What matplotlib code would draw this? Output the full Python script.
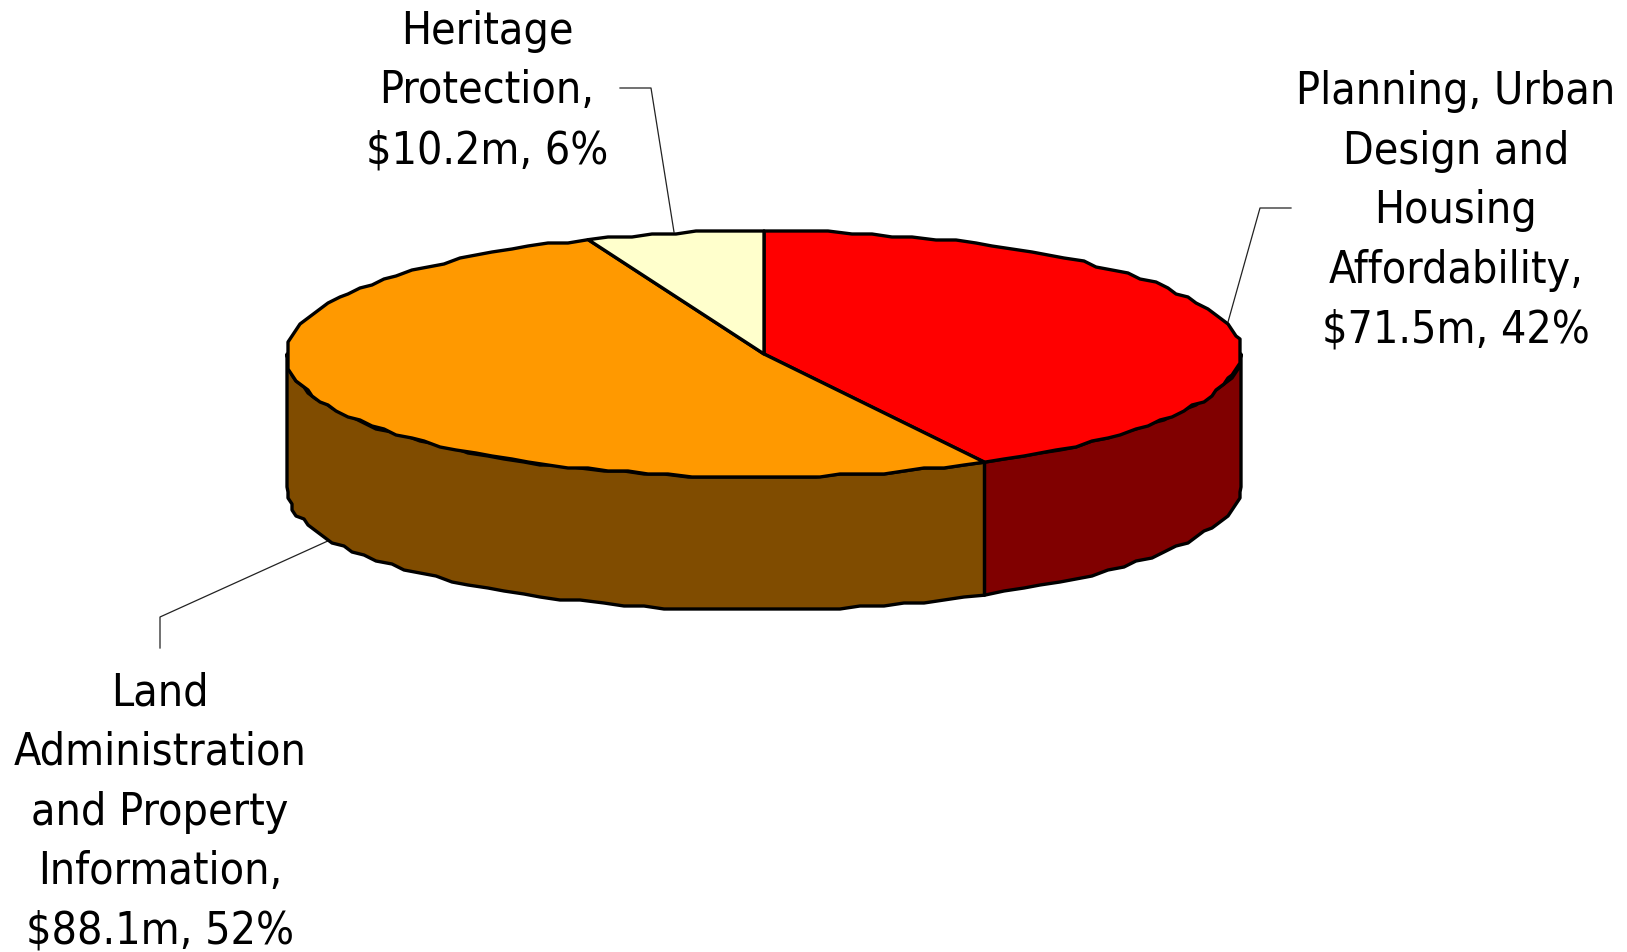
import numpy as np
import matplotlib
matplotlib.use("Agg")
import matplotlib.pyplot as plt
from matplotlib.patches import Polygon

categories = ["Planning, Urban\nDesign and\nHousing\nAffordability,\n$71.5m, 42%",
              "Land\nAdministration\nand Property\nInformation,\n$88.1m, 52%",
              "Heritage\nProtection,\n$10.2m, 6%"]
values = [71.5, 88.1, 10.2]
top_colors = ["#FF0000", "#FF9900", "#FFFFCC"]
side_colors = ["#800000", "#804C00", "#808066"]

W, H = 1627, 952
cx, cy, rx, ry, depth = 764, 354, 477, 123, 133

plt.rcParams['font.family'] = ['DejaVu Sans']
fig = plt.figure(figsize=(W/100, H/100), dpi=100)
ax = fig.add_axes([0, 0, 1, 1])
ax.set_xlim(0, W); ax.set_ylim(H, 0); ax.axis("off")

def edge(a0, a1, dy=0):
    n = max(int(abs(a1 - a0) / 0.045), 2)
    t = np.linspace(a0, a1, n + 1)
    x = cx + rx*np.sin(t)
    y = cy - ry*np.cos(t)
    x = x - 0.06*np.maximum(y - cy, 0)
    y = y + dy
    xs, ys = np.round(x/4)*4, np.round(y/3)*3
    xs[0], ys[0], xs[-1], ys[-1] = x[0], y[0], x[-1], y[-1]
    return xs, ys

fr = np.cumsum([0]+values)/sum(values)*2*np.pi
lw = 2.4
for i in range(3):
    a0, a1 = max(fr[i], np.pi/2), min(fr[i+1], 3*np.pi/2)
    if a1 <= a0:
        continue
    x, y = edge(a0, a1)
    xb, yb = edge(a0, a1, depth)
    pts = np.r_[np.c_[x, y], np.c_[xb, yb][::-1]]
    ax.add_patch(Polygon(pts, closed=True, fc=side_colors[i], ec="black", lw=lw, joinstyle="round", zorder=2))
for i in range(3):
    x, y = edge(fr[i], fr[i+1])
    pts = np.r_[[[cx, cy]], np.c_[x, y]]
    ax.add_patch(Polygon(pts, closed=True, fc=top_colors[i], ec="black", lw=lw, joinstyle="round", zorder=3))

lc = "#222222"
ax.plot([1228, 1260, 1291], [322, 208, 208], color=lc, lw=0.9, zorder=1)
ax.plot([674, 651, 620], [232, 88, 88], color=lc, lw=0.9, zorder=1)
ax.plot([330, 160, 160], [540, 617, 648], color=lc, lw=0.9, zorder=1)

fs = 32
kw = dict(ha="center", va="center", fontsize=fs, stretch="condensed", color="black", linespacing=1.49, zorder=5)
ax.text(1456, 211, categories[0], **kw)
ax.text(160, 812, categories[1], **kw)
ax.text(487, 91, categories[2], **kw)
fig.savefig("out.png", dpi=100)
